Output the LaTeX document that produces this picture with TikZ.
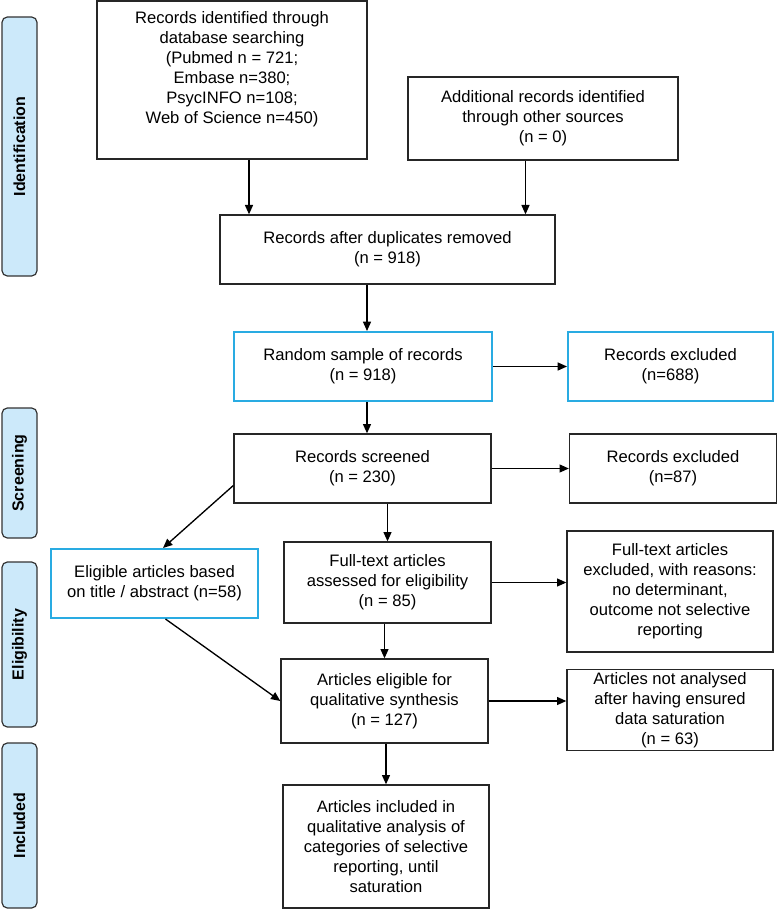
\documentclass[tikz,border=0pt]{standalone}
\usepackage{fontspec}
\setmainfont{Liberation Sans}
\usetikzlibrary{arrows.meta}
\newdimen\pxu \pxu=0.75pt
\definecolor{boxcyan}{RGB}{41,171,226}
\definecolor{phasefill}{RGB}{204,233,250}
\tikzset{
    box/.style={
        draw=black!85,
        line width=1pt,
        align=center,
        inner sep=2pt,
        font=\fontsize{12.45}{15}\selectfont},
    hilite/.style={
        box,
        draw=boxcyan,
        line width=1.5pt},
    phase/.style={
        draw=black!80,
        fill=phasefill,
        rounded corners=4pt,
        line width=0.9pt,
        rotate=90,
        minimum height=35\pxu,
        font=\fontsize{12}{14}\selectfont\bfseries},
    arr/.style={
        draw,
        -{Triangle[length=7pt,width=6pt]},
        line width=1pt}}

\begin{document}
\begin{tikzpicture}[x=0.75pt,y=-0.75pt]
        \useasboundingbox (0,0) rectangle (777,909);
        % phases
        \node[phase, minimum width=259\pxu] (ident) at (19.5,146.5) {Identification};
        \node[phase, minimum width=130\pxu] (screen) at (19.5,473) {Screening};
        \node[phase, minimum width=165\pxu] (elig) at (19.5,644.5) {Eligibility};
        \node[phase, minimum width=165\pxu] (incl) at (19.5,825.5) {Included};
        % boxes
        \node[box, minimum width=270\pxu, minimum height=158\pxu] (db) at (232,80)
            {Records identified through\\database searching\\(Pubmed n = 721;\\Embase n=380;\\PsycINFO n=108;\\Web of Science n=450)\\ \strut};
        \node[box, minimum width=270\pxu, minimum height=83\pxu] (other) at (543,118.5)
            {Additional records identified\\through other sources\\(n = 0)};
        \node[box, minimum width=335\pxu, minimum height=69\pxu] (dup) at (387.5,249.5)
            {Records after duplicates removed\\(n = 918)};
        \node[hilite, minimum width=258\pxu, minimum height=69\pxu] (sample) at (363,366.5)
            {Random sample of records\\(n = 918)};
        \node[hilite, minimum width=205\pxu, minimum height=69\pxu] (excl1) at (670.5,366.5)
            {Records excluded\\(n=688)};
        \node[box, minimum width=257\pxu, minimum height=69\pxu] (screened) at (362.5,468.5)
            {Records screened\\(n = 230)};
        \node[box, minimum width=207\pxu, minimum height=69\pxu] (excl2) at (673,468.5)
            {Records excluded\\(n=87)};
        \node[box, minimum width=207\pxu, minimum height=81\pxu] (full) at (387.5,582.5)
            {Full-text articles\\assessed for eligibility\\(n = 85)};
        \node[box, minimum width=206\pxu, minimum height=121\pxu] (exclfull) at (670,591.5)
            {Full-text articles\\excluded, with reasons:\\no determinant,\\outcome not selective\\reporting};
        \node[hilite, minimum width=207\pxu, minimum height=69\pxu] (title) at (154.5,583.5)
            {Eligible articles based\\on title / abstract (n=58)};
        \node[box, minimum width=207\pxu, minimum height=84\pxu] (qual) at (384.5,701)
            {Articles eligible for\\qualitative synthesis\\(n = 127)};
        \node[box, minimum width=206\pxu, minimum height=76\pxu] (notan) at (670,710)
            {Articles not analysed\\after having ensured\\data saturation\\(n = 63)};
        \node[box, minimum width=206\pxu, minimum height=123\pxu] (final) at (386,846.5)
            {Articles included in\\qualitative analysis of\\categories of selective\\reporting, until\\saturation};
        % arrows
        \draw[arr] ([xshift=17\pxu]db.south) -- ([xshift=17\pxu]db.south |- dup.north);
        \draw[arr] ([xshift=-17.5\pxu]other.south) -- ([xshift=-17.5\pxu]other.south |- dup.north);
        \draw[arr] ([xshift=4\pxu]sample.north |- dup.south) -- ([xshift=4\pxu]sample.north);
        \draw[arr] (sample.east) -- (excl1.west);
        \draw[arr] ([xshift=4\pxu]sample.south) -- ([xshift=4\pxu]sample.south |- screened.north);
        \draw[arr] (screened.east) -- (excl2.west);
        \draw[arr] (full.north |- screened.south) -- (full.north);
        \draw[arr] ([yshift=-17\pxu]screened.west) -- ([xshift=8.5\pxu]title.north);
        \draw[arr] (full.east) -- (full.east -| exclfull.west);
        \draw[arr] (qual.north |- full.south) -- (qual.north);
        \draw[arr] ([xshift=11\pxu]title.south) -- (qual.west);
        \draw[arr] (qual.east) -- (qual.east -| notan.west);
        \draw[arr] (final.north |- qual.south) -- (final.north);
    \end{tikzpicture}
\end{document}
